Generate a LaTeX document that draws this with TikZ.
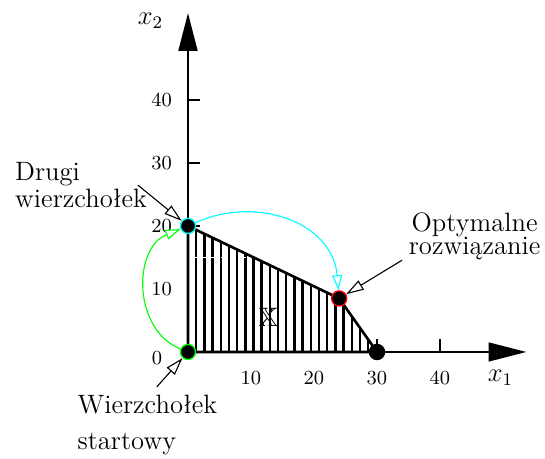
\documentclass[tikz,border=0pt]{standalone}
\usepackage{fontspec}
\usepackage{amssymb}
\usetikzlibrary{arrows.meta,positioning,calc}
\definecolor{StepGreen}{RGB}{0,255,0}
\definecolor{StepCyan}{RGB}{0,255,255}
\definecolor{StepRed}{RGB}{255,0,0}

\begin{document}
\begin{tikzpicture}[
  x=1mm, y=1mm,
  axis/.style={line width=0.9pt, -{Triangle[length=6mm, width=3mm]}},
  tickline/.style={line width=0.5pt},
  ticklbl/.style={font=\small, inner sep=0pt},
  vertex/.style={circle, fill=black, draw=#1, line width=0.6pt,
    minimum size=2.4mm, inner sep=0pt},
  vertex/.default=black,
  edge/.style={line width=1.2pt, line join=round},
  hatch/.style={line width=1.1pt},
  move/.style={line width=0.5pt, -{Triangle[open, length=2.4mm, width=1.6mm, fill=white]}},
  pointer/.style={line width=0.5pt, -{Triangle[open, length=2.8mm, width=1.7mm, fill=white]}},
  note/.style={font=\fontsize{12}{10.5}\selectfont, inner sep=0pt}
]
\useasboundingbox (-29.84,-16.83) rectangle (56.67,55.87);

% --- Axes
\coordinate (O) at (0,0);
\coordinate (xend) at (53.7,0);
\coordinate (yend) at (0,53.8);
\draw[axis] (O) -- (xend);
\draw[axis] (O) -- (yend);

% --- Ticks and tick labels
\foreach \v in {10,20,30,40} {
  \draw[tickline] (\v,0) -- (\v,2);
  \draw[tickline] (0,\v) -- (1.9,\v);
  \node[ticklbl] (xl\v) at (\v,-4.1) {\v};
  \node[ticklbl] (yl\v) at (-4.2,\v) {\v};
}
\node[ticklbl] (zero) at (-4.9,-1) {0};
\node[font=\large] (xone) at (49.6,-4.1) {$x_1$};
\node[font=\large] (xtwo) at (-5.95,52.6) {$x_2$};

% --- Feasible region X
\fill[white] (0,0) -- (0,20) -- (24,8.5) -- (30,0) -- cycle;
\begin{scope}
  \clip (0,0) -- (0,20) -- (24,8.5) -- (30,0) -- cycle;
  \foreach \x in {1.3,2.6,...,30} \draw[hatch] (\x,0) -- (\x,20);
\end{scope}
\draw[white, line width=0.6pt, dash pattern=on 1mm off 0.5mm] (0.7,15) -- (9.6,15);
\draw[edge] (0,0) -- (0,20) -- (24,8.5) -- (30,0) -- cycle;
\node[font=\large] (region) at (12.75,5.5) {$\mathbb{X}$};

% --- Vertices
\node[vertex=StepGreen] (start)  at (0,0)    {};
\node[vertex=StepCyan]  (second) at (0,20)   {};
\node[vertex=StepRed]   (opt)    at (24,8.5) {};
\node[vertex]           (corner) at (30,0)   {};

% --- Simplex steps
\draw[move, StepGreen] (start) to[bend left=68, looseness=1.1] (second);
\draw[move, StepCyan] (second) to[out=24, in=95, looseness=1.1] (opt);

% --- Labels
\node[note, align=left, anchor=west] (drugi) at (-27.5,26.5) {Drugi\\wierzchołek};
\node[note, align=center] (optlbl) at (45.5,18.4) {Optymalne\\rozwiązanie};
\node[note, align=left, anchor=west] (startlbl) at (-17.6,-11.6) {Wierzchołek\\[6pt]startowy};

\draw[pointer] ([xshift=-1.5mm]drugi.east) -- (second);
\draw[pointer] ([xshift=-1mm]optlbl.south west) -- (opt);
\draw[pointer] ([shift={(1.5mm,1.2mm)}]startlbl.north) -- (start);

\end{tikzpicture}
\end{document}
